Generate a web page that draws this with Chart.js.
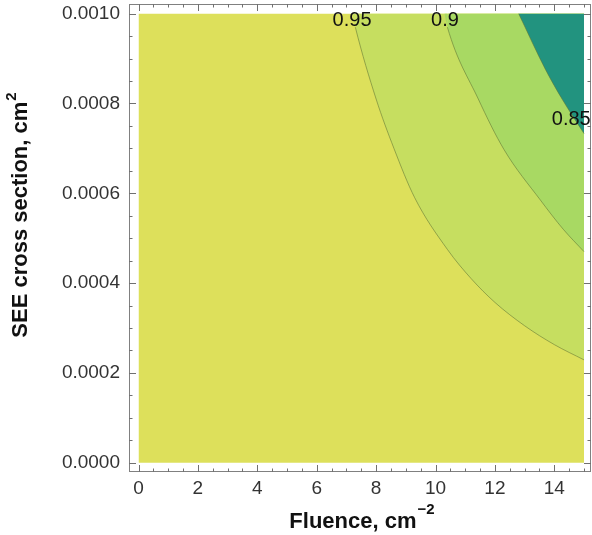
<!DOCTYPE html>
<html>
<head>
<meta charset="utf-8">
<script src="https://cdn.jsdelivr.net/npm/chart.js@4.4.0/dist/chart.umd.min.js"></script>
<style>
  html, body { margin: 0; padding: 0; background: #fff; }
</style>
</head>
<body>
<canvas id="chart" width="592" height="535"></canvas>
<script>
// Axis ranges and ticks
const fluenceRange = [0, 15];
const sigmaRange = [0, 0.001];
const xTicks = [0, 2, 4, 6, 8, 10, 12, 14];
const yTicks = [0, 0.0002, 0.0004, 0.0006, 0.0008, 0.001];
const xMinorTicks = [0.5, 1, 1.5, 2.5, 3, 3.5, 4.5, 5, 5.5, 6.5, 7, 7.5, 8.5, 9, 9.5, 10.5, 11, 11.5, 12.5, 13, 13.5, 14.5, 15];
const yMinorTicks = [0.00005, 0.0001, 0.00015, 0.00025, 0.0003, 0.00035, 0.00045, 0.0005, 0.00055,
    0.00065, 0.0007, 0.00075, 0.00085, 0.0009, 0.00095];

// Contour lines (fluence, cross section)
const c95F = [7.2, 7.3, 8.0, 8.6, 9.3, 10.4, 11.2, 12.0, 13.0, 14.0, 15.0];
const c95S = [0.00100, 0.00097, 0.00081, 0.00070, 0.00059, 0.000475, 0.00041, 0.000357, 0.000305, 0.000263, 0.000229];
const c90F = [10.3, 10.4, 11.44, 12.31, 13.53, 14.3, 15.0];
const c90S = [0.00100, 0.00097, 0.00081, 0.000697, 0.000585, 0.00052, 0.00047];
const c85F = [12.8, 13.7, 14.27, 15.0];
const c85S = [0.00100, 0.000876, 0.000809, 0.000733];

// Contour labels
const levelLabels = ['0.95', '0.9', '0.85'];
const labelF = [7.19, 10.32, 14.57];
const labelS = [0.000985, 0.000985, 0.000764];

const lineColor = 'rgba(95, 115, 50, 0.7)';
const fontFamily = '"Liberation Sans", Arial, sans-serif';

function contour(F, S, color, order, hideFirst) {
    return {
        data: F.map((f, i) => ({ x: f, y: S[i] })),
        backgroundColor: color,
        borderColor: lineColor,
        borderWidth: 0.8,
        fill: { value: sigmaRange[1] },
        pointRadius: 0,
        cubicInterpolationMode: 'monotone',
        order: order,
        segment: {
            borderColor: ctx => (hideFirst && ctx.p0DataIndex === 0) ? 'rgba(0,0,0,0)' : lineColor
        }
    };
}

// Frame with inward ticks on all four sides
const framePlugin = {
    id: 'frame',
    afterDraw(chart) {
        const { ctx, chartArea: a, scales: { x, y } } = chart;
        ctx.save();
        ctx.strokeStyle = '#808080';
        ctx.lineWidth = 1;
        ctx.strokeRect(a.left + 0.5, a.top + 0.5, a.right - a.left - 1, a.bottom - a.top - 1);
        ctx.strokeStyle = '#707070';
        ctx.beginPath();
        const xt = (v, len) => {
            const px = Math.round(x.getPixelForValue(v)) + 0.5;
            ctx.moveTo(px, a.bottom); ctx.lineTo(px, a.bottom - len);
            ctx.moveTo(px, a.top); ctx.lineTo(px, a.top + len);
        };
        const yt = (v, len) => {
            const py = Math.round(y.getPixelForValue(v)) + 0.5;
            ctx.moveTo(a.left, py); ctx.lineTo(a.left + len, py);
            ctx.moveTo(a.right, py); ctx.lineTo(a.right - len, py);
        };
        xTicks.forEach(v => xt(v, 7));
        xMinorTicks.forEach(v => xt(v, 3.5));
        yTicks.forEach(v => yt(v, 7));
        yMinorTicks.forEach(v => yt(v, 3.5));
        ctx.stroke();
        ctx.restore();
    }
};

// Contour labels and axis titles
const textPlugin = {
    id: 'texts',
    afterDatasetsDraw(chart) {
        const { ctx, scales: { x, y } } = chart;
        ctx.save();
        ctx.fillStyle = '#111';
        ctx.font = '20px ' + fontFamily;
        ctx.textAlign = 'center';
        ctx.textBaseline = 'middle';
        levelLabels.forEach((t, i) => {
            ctx.fillText(t, x.getPixelForValue(labelF[i]), y.getPixelForValue(labelS[i]));
        });
        ctx.restore();
    },
    afterDraw(chart) {
        const { ctx } = chart;
        ctx.save();
        ctx.fillStyle = '#111';
        ctx.textAlign = 'left';
        ctx.textBaseline = 'alphabetic';

        // x title
        ctx.font = 'bold 22px ' + fontFamily;
        const xMain = 'Fluence, cm';
        const w1 = ctx.measureText(xMain).width;
        ctx.font = 'bold 15px ' + fontFamily;
        const w2 = ctx.measureText('\u22122').width;
        let sx = 362 - (w1 + w2 + 1) / 2;
        ctx.font = 'bold 22px ' + fontFamily;
        ctx.fillText(xMain, sx, 528);
        ctx.font = 'bold 15px ' + fontFamily;
        ctx.fillText('\u22122', sx + w1 + 1, 514);

        // y title
        ctx.translate(27, 215);
        ctx.rotate(-Math.PI / 2);
        ctx.font = 'bold 22px ' + fontFamily;
        const yMain = 'SEE cross section, cm';
        const v1 = ctx.measureText(yMain).width;
        ctx.font = 'bold 15px ' + fontFamily;
        const v2 = ctx.measureText('2').width;
        const sy = -(v1 + v2 + 1) / 2;
        ctx.font = 'bold 22px ' + fontFamily;
        ctx.fillText(yMain, sy, 0);
        ctx.font = 'bold 15px ' + fontFamily;
        ctx.fillText('2', sy + v1 + 1, -11);
        ctx.restore();
    }
};

const chart = new Chart(document.getElementById('chart'), {
    type: 'line',
    data: {
        datasets: [
            {
                data: [{ x: fluenceRange[0], y: sigmaRange[0] }, { x: fluenceRange[1], y: sigmaRange[0] }],
                backgroundColor: '#DDE05B',
                borderWidth: 0,
                fill: { value: sigmaRange[1] },
                pointRadius: 0,
                order: 4
            },
            contour(c95F, c95S, '#C6DE60', 3, true),
            contour(c90F, c90S, '#A8D963', 2, true),
            contour(c85F, c85S, '#22937F', 1, false)
        ]
    },
    options: {
        responsive: false,
        devicePixelRatio: 1,
        animation: false,
        layout: { padding: { top: 4, right: 1, left: 0, bottom: 0 } },
        plugins: {
            legend: { display: false },
            tooltip: { enabled: false }
        },
        scales: {
            x: {
                type: 'linear',
                min: -0.32,
                max: 15.235,
                afterBuildTicks: s => { s.ticks = xTicks.map(v => ({ value: v })); },
                afterFit: s => { s.height = 63; s.paddingLeft = 0; s.paddingRight = 0; },
                grid: { display: false, drawTicks: false },
                border: { display: false },
                ticks: {
                    font: { family: fontFamily, size: 19 },
                    color: '#333',
                    padding: 5,
                    maxRotation: 0,
                    autoSkip: false,
                    callback: v => String(v)
                }
            },
            y: {
                type: 'linear',
                min: -0.0000207,
                max: 0.0010216,
                afterBuildTicks: s => { s.ticks = yTicks.map(v => ({ value: v })); },
                afterFit: s => { s.width = 129; s.paddingTop = 0; s.paddingBottom = 0; },
                grid: { display: false, drawTicks: false },
                border: { display: false },
                ticks: {
                    font: { family: fontFamily, size: 19 },
                    color: '#333',
                    padding: 9,
                    autoSkip: false,
                    callback: v => v.toFixed(4)
                }
            }
        }
    },
    plugins: [framePlugin, textPlugin]
});
</script>
</body>
</html>
